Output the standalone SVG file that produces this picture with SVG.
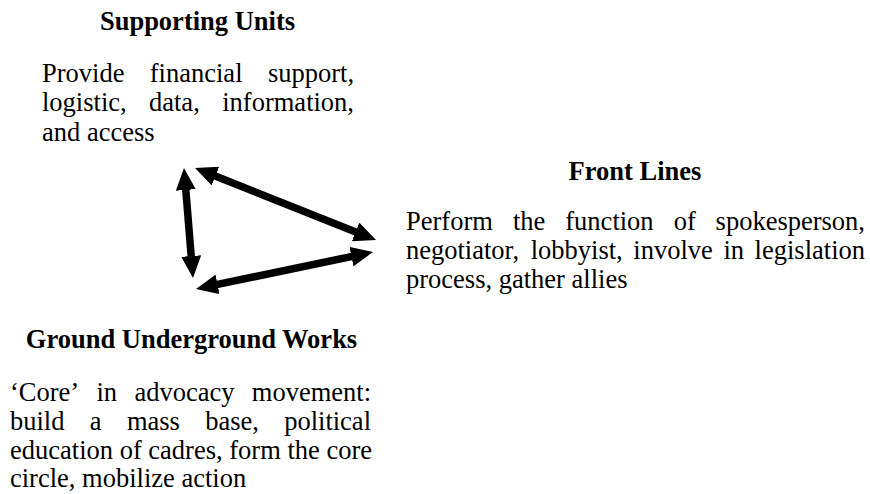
<svg xmlns="http://www.w3.org/2000/svg" width="870" height="494" viewBox="0 0 870 494">
<style>
text{font-family:"Liberation Serif","Times New Roman",serif;font-size:26.5px;fill:#000}
.h{font-weight:bold;text-anchor:middle}
.conn line{stroke:#000;stroke-width:7.5}
</style>
<defs>
<marker id="ah" markerUnits="userSpaceOnUse" viewBox="0 0 22 20" markerWidth="22" markerHeight="20" refX="11" refY="10" orient="auto-start-reverse">
<path d="M0,0 L22,10 L0,20 z" fill="#000"/>
</marker>
</defs>
<rect width="870" height="494" fill="#fff"/>
<g id="supporting-units">
<text class="h" x="197.5" y="30">Supporting Units</text>
<text y="82"><tspan x="42">Provide</tspan><tspan x="149.8">financial</tspan><tspan x="354" text-anchor="end">support,</tspan></text>
<text y="111"><tspan x="42">logistic,</tspan><tspan x="149">data,</tspan><tspan x="354" text-anchor="end">information,</tspan></text>
<text x="42" y="140.5">and access</text>
</g>
<g id="front-lines">
<text class="h" x="635" y="180">Front Lines</text>
<text y="230"><tspan x="406">Perform</tspan><tspan x="512.9">the</tspan><tspan x="565.3">function</tspan><tspan x="673.7">of</tspan><tspan x="865" text-anchor="end">spokesperson,</tspan></text>
<text y="259"><tspan x="406">negotiator,</tspan><tspan x="530.7">lobbyist,</tspan><tspan x="633.3">involve</tspan><tspan x="723.4">in</tspan><tspan x="865" text-anchor="end">legislation</tspan></text>
<text x="406" y="288">process, gather allies</text>
</g>
<g id="ground-underground-works">
<text class="h" x="191.5" y="348">Ground Underground Works</text>
<text y="401"><tspan x="10">‘Core’</tspan><tspan x="96.5">in</tspan><tspan x="134.4">advocacy</tspan><tspan x="371" text-anchor="end">movement:</tspan></text>
<text y="430"><tspan x="10">build</tspan><tspan x="89.8">a</tspan><tspan x="126.9">mass</tspan><tspan x="205.2">base,</tspan><tspan x="371" text-anchor="end">political</tspan></text>
<text x="10" y="458.5">education of cadres, form the core</text>
<text x="10" y="487">circle, mobilize action</text>
</g>
<g id="connectors" class="conn">
<line x1="184.9" y1="179" x2="192.1" y2="267" marker-start="url(#ah)" marker-end="url(#ah)"/>
<line x1="205.2" y1="172.1" x2="365.8" y2="235.9" marker-start="url(#ah)" marker-end="url(#ah)"/>
<line x1="206.8" y1="286.7" x2="362.2" y2="254.3" marker-start="url(#ah)" marker-end="url(#ah)"/>
</g>
</svg>
